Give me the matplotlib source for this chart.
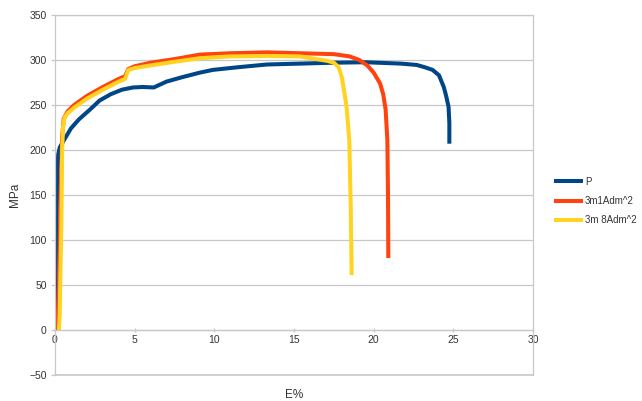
import matplotlib
matplotlib.use('Agg')
import matplotlib.pyplot as plt
import matplotlib.ticker as mticker

plt.rcParams['font.family'] = ['Liberation Sans', 'DejaVu Sans']

# ── Data (strain %, stress MPa) ────────────────────────────────────────────────
p_strain = [0, 0.05, 0.1, 0.15, 0.2, 0.3, 0.6, 1.0, 1.5, 2.2, 2.8, 3.5, 4.2,
            4.9, 5.5, 6.2, 7.0, 8.0, 9.1, 9.9, 11.5, 13.3, 15.4, 17.5, 19.5,
            21.7, 22.7, 23.2, 23.7, 24.1, 24.4, 24.55, 24.7, 24.75, 24.75]
p_stress = [0, 60, 120, 175, 195, 203, 212, 224, 234, 245, 255, 262, 267,
            269.5, 270, 269.5, 276, 281, 286, 289, 292, 295, 296, 297, 297.5,
            296, 294.5, 292, 289, 283, 270, 260, 248, 230, 207]

r_strain = [0.15, 0.25, 0.35, 0.45, 0.55, 0.8, 1.2, 2.0, 3.0, 4.0, 4.4, 4.6,
            5.0, 6.0, 7.5, 9.1, 11.0, 13.3, 15.4, 17.5, 18.5, 19.1, 19.6, 20.0,
            20.4, 20.6, 20.75, 20.86, 20.9, 20.92]
r_stress = [0, 50, 150, 215, 235, 243, 250, 260, 270, 279, 282, 290,
            293, 297, 301, 306, 307.5, 308.5, 307.5, 306.5, 304, 300, 294, 286,
            274, 262, 245, 211, 150, 80]

y_strain = [0.25, 0.3, 0.4, 0.45, 0.5, 0.6, 0.8, 1.2, 2.0, 3.0, 4.0, 4.4,
            4.6, 5.0, 6.0, 7.5, 9.1, 11.0, 13.3, 15.4, 16.4, 17.1, 17.5, 17.8,
            18.0, 18.15, 18.3, 18.47, 18.56, 18.62]
y_stress = [0, 20, 120, 200, 225, 236, 241, 247, 257, 267, 276, 279,
            289, 291, 294, 298, 302, 304, 304.5, 304, 301, 299, 297, 292,
            281, 265, 248, 211, 137, 61]

series = [
    ('P', p_strain, p_stress, '#004586'),
    ('3m1Adm^2', r_strain, r_stress, '#ff420e'),
    ('3m 8Adm^2', y_strain, y_stress, '#ffd320'),
]

fig = plt.figure(figsize=(6.42, 4.01), dpi=100)
ax = fig.add_axes([55 / 642, 1 - 375 / 401, (533 - 55) / 642, (375 - 15) / 401])

for label, xs, ys, col in series:
    ax.plot(xs, ys, '-', color=col, lw=2.9, label=label,
            solid_capstyle='butt', solid_joinstyle='round')

ax.set_xlim(0, 30)
ax.set_ylim(-50, 350)
ax.xaxis.set_major_locator(mticker.MultipleLocator(5))
ax.yaxis.set_major_locator(mticker.MultipleLocator(50))

grid_col = '#c8c8c8'
ax.yaxis.grid(True, color=grid_col, lw=0.9)
ax.set_axisbelow(True)
for side in ('left', 'right', 'top', 'bottom'):
    ax.spines[side].set_color(grid_col)
    ax.spines[side].set_linewidth(0.9)
ax.spines['bottom'].set_position(('data', 0))
# bottom frame edge at -50 (the x axis itself sits at 0)
ax.axhline(-50, color=grid_col, lw=1.2, clip_on=False, zorder=0.5)

ax.tick_params(axis='both', colors=grid_col, labelcolor='#333333',
               labelsize=7.5, length=3, width=0.9)
ax.tick_params(axis='x', direction='inout', pad=2)
ax.tick_params(axis='y', direction='out', pad=3)

ax.set_xlabel('E%', fontsize=8.5, color='#333333', labelpad=0)
ax.xaxis.set_label_coords(0.5, -0.04)
ax.set_ylabel('MPa', fontsize=8.5, color='#333333')
ax.yaxis.set_label_coords(-0.072, 0.5)

leg = fig.legend(loc='upper left', bbox_to_anchor=(550 / 642, 1 - 173 / 401),
                 frameon=False, fontsize=7, handlelength=3.0,
                 handletextpad=0.2, labelspacing=0.95, borderaxespad=0)
for t in leg.get_texts():
    t.set_color('#333333')

fig.savefig('out.png', dpi=100)
